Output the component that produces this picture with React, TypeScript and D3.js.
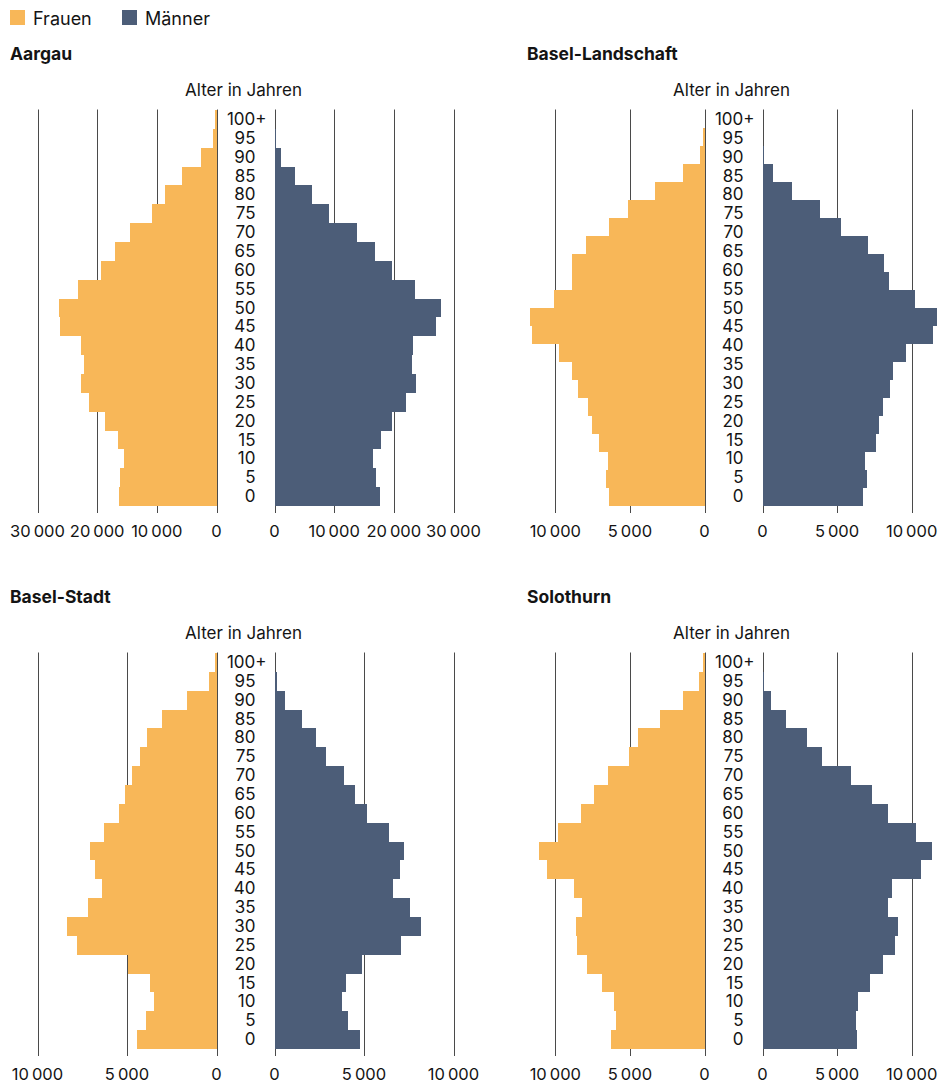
import * as d3 from "d3";
import {useEffect, useRef} from "react";

// Altersgruppen, von unten nach oben
const ageGroups = ["0", "5", "10", "15", "20", "25", "30", "35", "40", "45", "50",
  "55", "60", "65", "70", "75", "80", "85", "90", "95", "100+"];

const aargauFrauen = [16410, 16250, 15570, 16580, 18770, 21290, 22630, 22130, 22630, 26160, 26330,
  23140, 19380, 17030, 14570, 10810, 8680, 5830, 2630, 560, 200];
const aargauMaenner = [17760, 17090, 16580, 17930, 19610, 21960, 23640, 22970, 23140, 27000, 27840,
  23470, 19610, 16920, 13890, 9190, 6330, 3470, 1120, 280, 60];

const blFrauen = [6400, 6600, 6470, 7070, 7540, 7810, 8480, 8880, 9750, 11570, 11700,
  10090, 8880, 8880, 7940, 6400, 5120, 3310, 1430, 290, 70];
const blMaenner = [6710, 6980, 6850, 7590, 7790, 8090, 8560, 8760, 9640, 11400, 11670,
  10230, 8470, 8130, 7070, 5250, 3830, 2000, 700, 90, 20];

const bsFrauen = [4430, 3930, 3480, 3700, 4940, 7810, 8370, 7200, 6370, 6810, 7090,
  6310, 5430, 5090, 4700, 4260, 3870, 3040, 1650, 430, 75];
const bsMaenner = [4780, 4120, 3790, 4010, 4910, 7090, 8210, 7590, 6640, 7030, 7260,
  6420, 5190, 4510, 3900, 2890, 2330, 1550, 600, 130, 20];

const soFrauen = [6260, 5920, 6050, 6860, 7870, 8540, 8610, 8210, 8740, 10560, 11100,
  9820, 8270, 7400, 6460, 5040, 4440, 2960, 1410, 340, 70];
const soMaenner = [6360, 6290, 6430, 7240, 8110, 8850, 9060, 8380, 8650, 10610, 11350,
  10270, 8380, 7370, 5960, 4000, 2990, 1570, 560, 90, 20];

const cantons = ["Aargau", "Basel-Landschaft", "Basel-Stadt", "Solothurn"];
const axisMax = [30000, 12000, 10000, 12000];
const ticksBig = [0, 10000, 20000, 30000];
const ticksSmall = [0, 5000, 10000];

const legendLabels = ["Frauen", "Männer"];
const axisTitle = "Alter in Jahren";

// Basel-Landschaft hat im Original einen leeren Balkenplatz oben
const panels = [
  {name: cantons[0], frauen: aargauFrauen, maenner: aargauMaenner, max: axisMax[0], ticks: ticksBig, emptyTop: false},
  {name: cantons[1], frauen: blFrauen, maenner: blMaenner, max: axisMax[1], ticks: ticksSmall, emptyTop: true},
  {name: cantons[2], frauen: bsFrauen, maenner: bsMaenner, max: axisMax[2], ticks: ticksSmall, emptyTop: false},
  {name: cantons[3], frauen: soFrauen, maenner: soMaenner, max: axisMax[3], ticks: ticksSmall, emptyTop: false},
];

const width = 939;
const height = 1085;
const orange = "#F8B758";
const navy = "#4C5D78";
const font = "Inter, 'Noto Sans', sans-serif";
const textColor = "#141414";

const App = () => {
  const svgRef = useRef<SVGSVGElement>(null!);

  useEffect(() => {
    const svg = d3.select(svgRef.current);
    svg.selectAll("*").remove();

    const fmt = d3.formatLocale({decimal: ".", thousands: "\u2009", grouping: [3], currency: ["", ""]}).format(",");

    // Legende
    const legend = svg.append("g");
    [orange, navy].forEach((c, i) => {
      const lx = i === 0 ? 10 : 122;
      legend.append("rect").attr("x", lx).attr("y", 10).attr("width", 15).attr("height", 15).attr("fill", c);
      legend.append("text").attr("x", lx + 23).attr("y", 24.5)
        .attr("font-family", font).attr("font-size", 18).attr("fill", textColor)
        .text(legendLabels[i]);
    });

    const halfWidth = 179;
    const gap = 58;
    const plotHeight = 396;
    const panelLeft = [37.5, 525.5];
    const titleX = [10, 527];
    const panelTop = [110, 653];

    panels.forEach((p, i) => {
      const col = i % 2;
      const row = Math.floor(i / 2);
      const y0 = panelTop[row];
      const leftZero = panelLeft[col] + halfWidth;
      const rightZero = leftZero + gap;

      const xl = d3.scaleLinear().domain([0, p.max]).range([leftZero, leftZero - halfWidth]);
      const xr = d3.scaleLinear().domain([0, p.max]).range([rightZero, rightZero + halfWidth]);
      const reversed = [...ageGroups].reverse();
      const y = d3.scaleBand().domain(reversed).range([y0, y0 + plotHeight]).padding(0);
      const yBar = d3.scaleBand()
        .domain(p.emptyTop ? ["leer", ...reversed] : reversed)
        .range([y0, y0 + plotHeight]).padding(0);

      const g = svg.append("g");

      // Titel
      g.append("text").attr("x", titleX[col]).attr("y", y0 - 50.5)
        .attr("font-family", font).attr("font-size", 17.5).attr("font-weight", 700).attr("fill", textColor)
        .text(p.name);
      g.append("text").attr("x", (leftZero + rightZero) / 2 - 2).attr("y", y0 - 14)
        .attr("text-anchor", "middle")
        .attr("font-family", font).attr("font-size", 17).attr("fill", textColor)
        .text(axisTitle);

      // Gitterlinien + Achsenbeschriftung
      const grid = (scale: d3.ScaleLinear<number, number>, cls: string) => {
        g.selectAll("line." + cls).data(p.ticks).join("line")
          .attr("class", cls)
          .attr("x1", d => Math.round(scale(d)) + 0.5)
          .attr("x2", d => Math.round(scale(d)) + 0.5)
          .attr("y1", y0 - 0.5)
          .attr("y2", y0 + plotHeight + 7)
          .attr("stroke", "#4a4a4a")
          .attr("stroke-width", 1);
        g.selectAll("text." + cls).data(p.ticks).join("text")
          .attr("class", cls)
          .attr("x", d => scale(d))
          .attr("y", y0 + plotHeight + 30.5)
          .attr("text-anchor", "middle")
          .attr("font-family", font).attr("font-size", 16.5).attr("fill", textColor)
          .text(d => fmt(d));
      };
      grid(xl, "gl");
      grid(xr, "gr");

      // Balken
      g.selectAll("rect.f").data(p.frauen).join("rect")
        .attr("class", "f")
        .attr("x", d => xl(d))
        .attr("y", (_, k) => yBar(ageGroups[k])!)
        .attr("width", d => leftZero - xl(d))
        .attr("height", yBar.bandwidth())
        .attr("fill", orange)
        .attr("shape-rendering", "crispEdges");
      g.selectAll("rect.m").data(p.maenner).join("rect")
        .attr("class", "m")
        .attr("x", rightZero)
        .attr("y", (_, k) => yBar(ageGroups[k])!)
        .attr("width", d => xr(d) - rightZero)
        .attr("height", yBar.bandwidth())
        .attr("fill", navy)
        .attr("shape-rendering", "crispEdges");

      // Alterslabels
      g.selectAll("text.age").data(ageGroups).join("text")
        .attr("class", "age")
        .attr("x", d => rightZero - 19 + (d.endsWith("+") ? 11 : 0))
        .attr("y", d => y(d)! + y.bandwidth() / 2 + 5.5)
        .attr("text-anchor", "end")
        .attr("font-family", font).attr("font-size", 17).attr("fill", textColor)
        .text(d => d);
    });
  }, []);

  return (
    <svg ref={svgRef} width={width} height={height}
         style={{position: "absolute", left: 0, top: 0, background: "#fff"}}/>
  );
};

export default App;
